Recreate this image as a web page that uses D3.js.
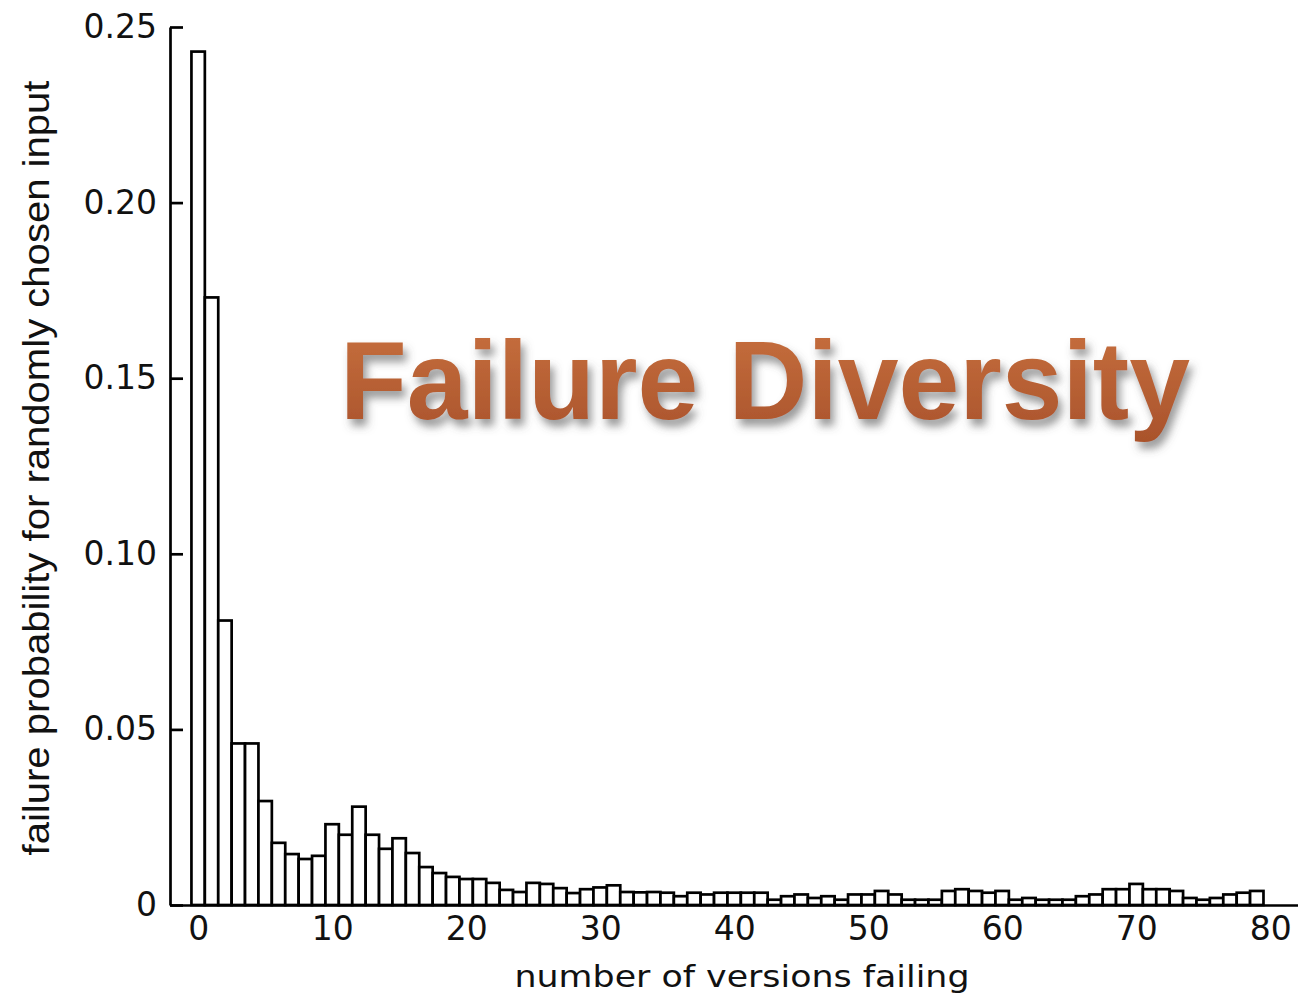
<!DOCTYPE html>
<html>
<head>
<meta charset="utf-8">
<script src="https://cdn.jsdelivr.net/npm/d3@7"></script>
<style>
  body { margin: 0; background: #fff; }
  svg { display: block; }
</style>
</head>
<body>
<div id="barGraph"></div>
<script>
// number of versions failing (x) -> failure probability (y)
var versionsFailing = d3.range(0, 80);
var failureProb = [
  0.243, 0.173, 0.081, 0.046, 0.046, 0.0296, 0.0177, 0.0145, 0.0131, 0.014,
  0.023, 0.020, 0.028, 0.020, 0.016, 0.019, 0.0148, 0.0108, 0.0091, 0.008,
  0.0074, 0.0074, 0.0063, 0.0043, 0.0037, 0.0063, 0.006, 0.0048, 0.0034, 0.0045,
  0.005, 0.0056, 0.0037, 0.0036, 0.0037, 0.0035, 0.0025, 0.0035, 0.003, 0.0035,
  0.0035, 0.0035, 0.0035, 0.0015, 0.0025, 0.003, 0.002, 0.0025, 0.0015, 0.003,
  0.003, 0.004, 0.003, 0.0015, 0.0015, 0.0015, 0.004, 0.0045, 0.004, 0.0035,
  0.004, 0.0015, 0.002, 0.0015, 0.0015, 0.0015, 0.0025, 0.003, 0.0045, 0.0045,
  0.006, 0.0045, 0.0045, 0.004, 0.002, 0.0015, 0.002, 0.003, 0.0035, 0.004
];
var xTicks = [0, 10, 20, 30, 40, 50, 60, 70, 80];
var yTicks = [0, 0.05, 0.10, 0.15, 0.20, 0.25];
var yTickLabels = ['0', '0.05', '0.10', '0.15', '0.20', '0.25'];

var chartTitle = 'Failure Diversity';
var xLabel = 'number of versions failing';
var yLabel = 'failure probability for randomly chosen input';

function DrawBar() {
  var width = 1298,
      height = 998;

  var xScale = d3.scaleLinear()
    .domain([-2.1, 82.3])
    .range([170, 1301]);

  var yScale = d3.scaleLinear()
    .domain([0, 0.25])
    .range([905, 27]);

  var barWidth = xScale(1) - xScale(0);

  var svg = d3.select('#barGraph')
    .append('svg')
    .attr('width', width)
    .attr('height', height);

  var defs = svg.append('defs');

  var grad = defs.append('linearGradient')
    .attr('id', 'titleFill')
    .attr('x1', 0).attr('y1', 0)
    .attr('x2', 0).attr('y2', 1);
  grad.append('stop').attr('offset', '0%').attr('stop-color', '#c8713f');
  grad.append('stop').attr('offset', '100%').attr('stop-color', '#a9522b');

  var shadow = defs.append('filter')
    .attr('id', 'titleShadow')
    .attr('x', '-10%').attr('y', '-20%')
    .attr('width', '130%').attr('height', '150%');
  shadow.append('feDropShadow')
    .attr('dx', 4)
    .attr('dy', 7)
    .attr('stdDeviation', 4)
    .attr('flood-color', '#555')
    .attr('flood-opacity', 0.6);

  // bars
  svg.append('g')
    .selectAll('rect')
    .data(failureProb)
    .enter()
    .append('rect')
    .attr('x', function(d, i) { return xScale(versionsFailing[i]) - barWidth / 2; })
    .attr('y', function(d) { return yScale(d); })
    .attr('width', barWidth)
    .attr('height', function(d) { return yScale(0) - yScale(d); })
    .style('fill', '#fff')
    .style('stroke', '#000')
    .style('stroke-width', 2.7);

  var xAxis = d3.axisBottom(xScale)
    .tickValues(xTicks)
    .tickSizeInner(0)
    .tickSizeOuter(0)
    .tickPadding(12);

  var yAxis = d3.axisLeft(yScale)
    .tickValues(yTicks)
    .tickFormat(function(d, i) { return yTickLabels[i]; })
    .tickSizeInner(-13)
    .tickSizeOuter(0)
    .tickPadding(13);

  var xAxisGroup = svg.append('g')
    .attr('transform', 'translate(0,' + yScale(0) + ')')
    .call(xAxis);

  var yAxisGroup = svg.append('g')
    .attr('transform', 'translate(' + xScale(-2.1) + ',0)')
    .call(yAxis);

  [xAxisGroup, yAxisGroup].forEach(function(g) {
    g.select('.domain').attr('stroke', '#000').attr('stroke-width', 2.7);
    g.selectAll('.tick line').attr('stroke', '#000').attr('stroke-width', 2.7);
    g.selectAll('.tick text')
      .attr('fill', '#111')
      .style('font-family', 'DejaVu Sans, sans-serif')
      .style('font-size', '33px');
  });

  svg.append('text')
    .attr('x', 742)
    .attr('y', 987)
    .attr('text-anchor', 'middle')
    .attr('textLength', 455)
    .attr('lengthAdjust', 'spacingAndGlyphs')
    .style('font-family', 'DejaVu Sans, sans-serif')
    .style('font-size', '30px')
    .attr('fill', '#111')
    .text(xLabel);

  svg.append('text')
    .attr('transform', 'translate(49,468) rotate(-90)')
    .attr('text-anchor', 'middle')
    .attr('textLength', 775)
    .attr('lengthAdjust', 'spacingAndGlyphs')
    .style('font-family', 'Liberation Sans Narrow, Liberation Sans, sans-serif')
    .style('font-size', '36px')
    .attr('fill', '#111')
    .text(yLabel);

  svg.append('text')
    .attr('x', 340)
    .attr('y', 419)
    .attr('textLength', 850)
    .attr('lengthAdjust', 'spacingAndGlyphs')
    .style('font-family', 'Liberation Sans, Arial, sans-serif')
    .style('font-weight', 'bold')
    .style('font-size', '112px')
    .attr('fill', 'url(#titleFill)')
    .attr('filter', 'url(#titleShadow)')
    .text(chartTitle);
}

DrawBar();
</script>
</body>
</html>
